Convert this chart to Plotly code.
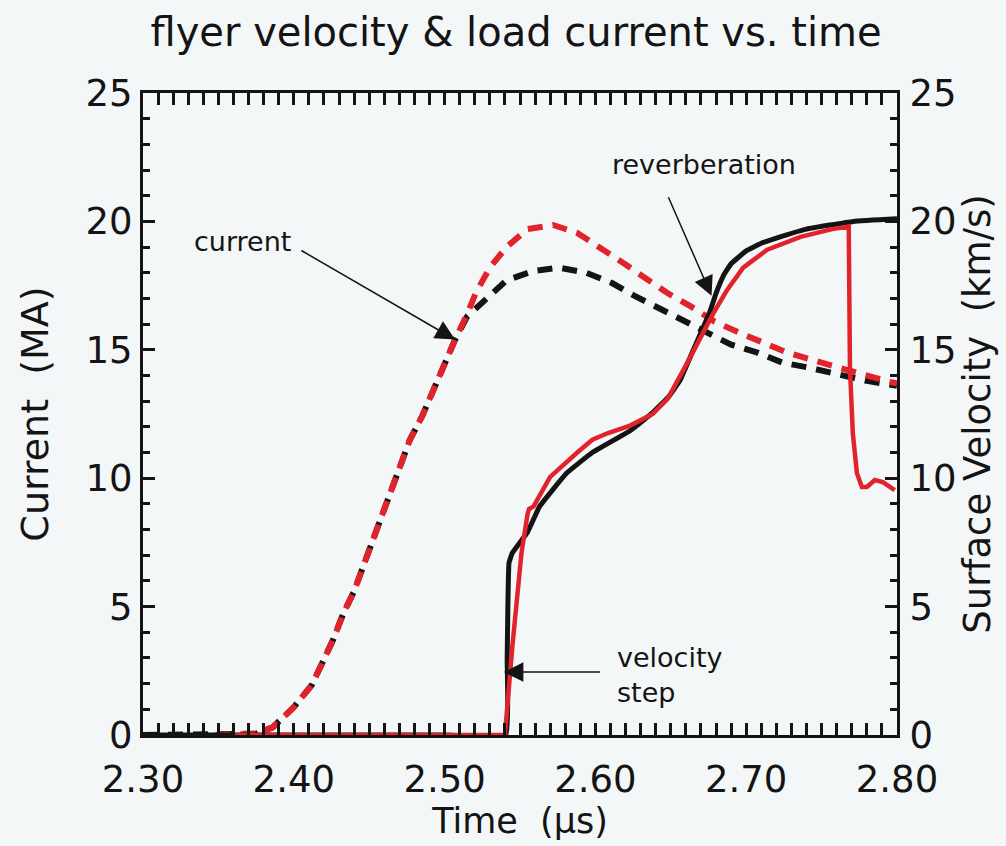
import plotly.graph_objects as go

# Load current (MA) vs time (us), dashed traces
cur_black_t = [2.300, 2.330, 2.350, 2.375, 2.386, 2.3995, 2.412, 2.419, 2.426, 2.433, 2.440,
               2.450, 2.460, 2.470, 2.477, 2.485, 2.492, 2.499, 2.507, 2.515, 2.528, 2.541,
               2.559, 2.576, 2.594, 2.611, 2.626, 2.643, 2.658, 2.674, 2.690, 2.707, 2.724,
               2.742, 2.760, 2.779, 2.800]
cur_black = [0.0, 0.0, 0.0, 0.05, 0.3, 1.05, 1.95, 2.8, 3.7, 4.75, 5.6,
             7.2, 8.8, 10.4, 11.5, 12.4, 13.4, 14.3, 15.4, 16.3, 17.0, 17.7,
             18.07, 18.2, 18.0, 17.6, 17.1, 16.6, 16.1, 15.65, 15.2, 14.9, 14.5,
             14.3, 14.06, 13.8, 13.6]

cur_red_t = [2.348, 2.375, 2.386, 2.3995, 2.412, 2.419, 2.426, 2.433, 2.440,
             2.450, 2.460, 2.470, 2.477, 2.485, 2.492, 2.499, 2.507, 2.515, 2.521, 2.530,
             2.541, 2.555, 2.572, 2.588, 2.604, 2.618, 2.633, 2.648, 2.663, 2.679, 2.696,
             2.712, 2.727, 2.744, 2.761, 2.778, 2.795, 2.800]
cur_red = [0.0, 0.05, 0.3, 1.05, 1.95, 2.8, 3.7, 4.75, 5.6,
           7.2, 8.8, 10.4, 11.5, 12.4, 13.4, 14.3, 15.4, 16.4, 17.25, 18.2,
           19.0, 19.7, 19.86, 19.55, 18.96, 18.4, 17.8, 17.2, 16.7, 16.1, 15.65,
           15.26, 14.9, 14.6, 14.3, 14.0, 13.75, 13.7]

# Flyer surface velocity (km/s), solid traces
vel_black_t = [2.300, 2.400, 2.500, 2.5405, 2.5415, 2.5427, 2.545, 2.555, 2.563, 2.581,
               2.598, 2.623, 2.638, 2.649, 2.656, 2.665, 2.676, 2.680, 2.685, 2.690,
               2.700, 2.710, 2.720, 2.740, 2.771, 2.800]
vel_black = [0.0, 0.0, 0.0, 0.0, 3.0, 6.7, 7.1, 7.9, 8.9, 10.2,
             11.0, 11.85, 12.55, 13.2, 13.8, 15.0, 16.5, 17.2, 17.9, 18.35,
             18.85, 19.15, 19.35, 19.7, 20.0, 20.1]

vel_red_t = [2.361, 2.450, 2.540, 2.545, 2.551, 2.555, 2.556, 2.559, 2.570, 2.588,
             2.598, 2.608, 2.623, 2.638, 2.648, 2.661, 2.669, 2.678, 2.687, 2.698, 2.714,
             2.736, 2.757, 2.768, 2.7688, 2.7707, 2.7734, 2.7767, 2.780, 2.7853,
             2.7906, 2.7985]
vel_red = [0.0, 0.0, 0.0, 3.5, 7.1, 8.6, 8.8, 8.9, 10.05, 11.0,
           11.5, 11.75, 12.05, 12.5, 13.1, 14.5, 15.4, 16.4, 17.3, 18.2, 18.9,
           19.4, 19.7, 19.8, 14.3, 11.75, 10.2, 9.66, 9.66, 9.93,
           9.85, 9.54]

x_ticks = [2.30, 2.40, 2.50, 2.60, 2.70, 2.80]
x_labels = ["2.30", "2.40", "2.50", "2.60", "2.70", "2.80"]
y_ticks = [0, 5, 10, 15, 20, 25]

BLACK = "#141414"
RED = "#e3232b"
BG = "#f4f7f8"
FONT = "DejaVu Sans, Liberation Sans, sans-serif"

fig = go.Figure()
dash = "15px,10px"
fig.add_trace(go.Scatter(x=cur_black_t, y=cur_black, mode="lines",
                         line=dict(color=BLACK, width=6, dash=dash), yaxis="y"))
fig.add_trace(go.Scatter(x=vel_black_t, y=vel_black, mode="lines",
                         line=dict(color=BLACK, width=5, shape="spline", smoothing=0.3),
                         yaxis="y2"))
fig.add_trace(go.Scatter(x=cur_red_t, y=cur_red, mode="lines",
                         line=dict(color=RED, width=6, dash=dash), yaxis="y"))
fig.add_trace(go.Scatter(x=vel_red_t, y=vel_red, mode="lines",
                         line=dict(color=RED, width=4.5), yaxis="y2"))

axis_common = dict(
    showgrid=False, zeroline=False, showline=True, linecolor=BLACK, linewidth=3,
    ticks="inside", tickcolor=BLACK, tickwidth=2.5, ticklen=12,
    tickfont=dict(family=FONT, size=37, color=BLACK),
)
minor_y = dict(ticks="inside", dtick=1, ticklen=7, tickwidth=2.5, tickcolor=BLACK)

fig.update_layout(
    width=1006, height=846,
    margin=dict(l=143, r=109, t=93, b=111),
    paper_bgcolor=BG, plot_bgcolor=BG,
    showlegend=False,
    title=dict(text="flyer velocity & load current vs. time", x=0.513, xanchor="center",
               y=0.962, yanchor="middle",
               font=dict(family=FONT, size=40, color=BLACK)),
    xaxis=dict(range=[2.30, 2.80], tickvals=x_ticks, ticktext=x_labels, mirror="allticks",
               ticklabelstandoff=10,
               minor=dict(ticks="inside", dtick=0.01, ticklen=6, tickwidth=2.5, tickcolor=BLACK),
               title=dict(text="Time  (\u03bcs)", font=dict(family=FONT, size=35, color=BLACK),
                          standoff=6),
               **axis_common),
    yaxis=dict(range=[0, 25], tickvals=y_ticks, side="left", ticklabelstandoff=0,
               minor=minor_y,
               title=dict(text="Current  (MA)", font=dict(family=FONT, size=38, color=BLACK),
                          standoff=26),
               **axis_common),
    yaxis2=dict(range=[0, 25], tickvals=y_ticks, side="right", overlaying="y",
                ticklabelstandoff=2, minor=minor_y,
                title=dict(text="Surface Velocity  (km/s)",
                           font=dict(family=FONT, size=37, color=BLACK), standoff=8),
                **axis_common),
)

ann_font = dict(family=FONT, size=27, color=BLACK)
arrow = dict(showarrow=True, arrowhead=2, arrowsize=2.6, arrowwidth=1.5, arrowcolor=BLACK,
             axref="x", ayref="y", text="", standoff=0, startstandoff=0)

# "current" label and arrow
fig.add_annotation(x=2.366, y=19.2, text="current", showarrow=False, font=ann_font)
fig.add_annotation(x=2.5069, y=15.4, ax=2.404, ay=18.9, **arrow)
# "reverberation" label and arrow
fig.add_annotation(x=2.672, y=22.2, text="reverberation", showarrow=False, font=ann_font)
fig.add_annotation(x=2.677, y=17.1, ax=2.648, ay=21.0, **arrow)
# "velocity step" label and arrow
fig.add_annotation(x=2.613, y=2.35, text="velocity<br>step", showarrow=False, font=ann_font,
                   xanchor="left", align="left")
fig.add_annotation(x=2.5393, y=2.45, ax=2.604, ay=2.45, **arrow)

fig.write_html("out.html")
